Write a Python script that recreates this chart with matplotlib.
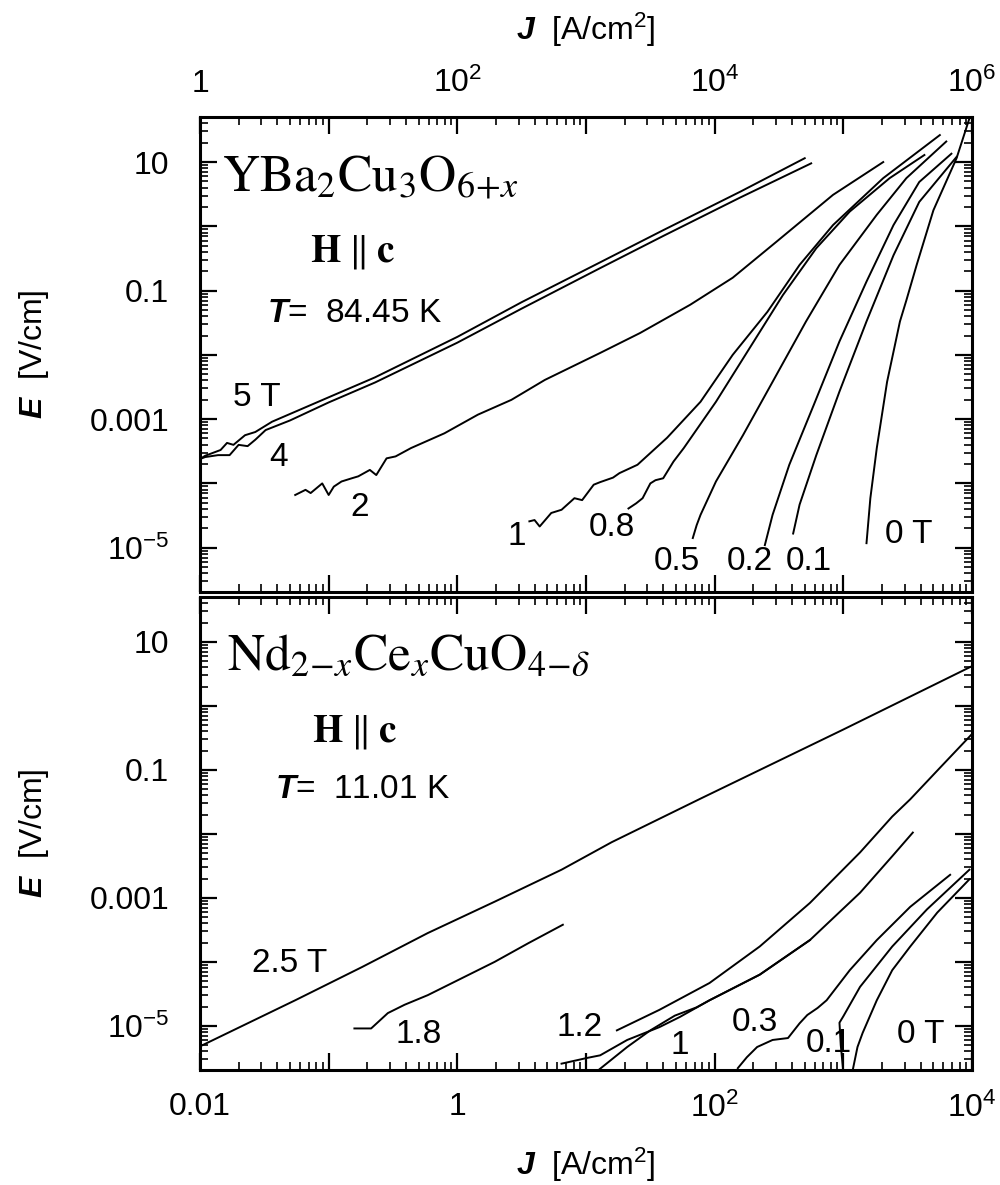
import numpy as np
import matplotlib
matplotlib.use('Agg')
import matplotlib.pyplot as plt
from matplotlib.ticker import FixedLocator, FixedFormatter, LogLocator, NullFormatter

plt.rcParams['font.family'] = ['Liberation Sans', 'DejaVu Sans']
plt.rcParams['mathtext.fontset'] = 'custom'
plt.rcParams['mathtext.rm'] = 'Liberation Sans'
plt.rcParams['mathtext.it'] = 'Liberation Sans:italic'
plt.rcParams['mathtext.bf'] = 'Liberation Sans:italic:bold'

# curves as (log10 J [A/cm2], log10 E [V/cm])
# --- YBa2Cu3O6+x, T = 84.45 K ---
ybco_5T = [(0.0, -3.62), (0.04, -3.57), (0.16, -3.48), (0.21, -3.37), (0.26, -3.40),
           (0.35, -3.25), (0.43, -3.20), (0.56, -3.04), (1.0, -2.66), (1.36, -2.35),
           (2.0, -1.72), (2.5, -1.18), (3.11, -0.56), (3.6, -0.06), (4.2, 0.54), (4.70, 1.06)]
ybco_4T = [(0.0, -3.62), (0.04, -3.59), (0.14, -3.56), (0.23, -3.56), (0.30, -3.40),
           (0.37, -3.42), (0.43, -3.32), (0.51, -3.17), (0.7, -3.02), (1.0, -2.74),
           (1.36, -2.43), (2.0, -1.81), (2.5, -1.28), (3.11, -0.65), (3.6, -0.15),
           (4.2, 0.45), (4.75, 0.98)]
ybco_2T = [(0.74, -4.18), (0.82, -4.10), (0.86, -4.15), (0.95, -4.00), (1.00, -4.18),
           (1.04, -4.05), (1.10, -3.97), (1.18, -3.92), (1.23, -3.89), (1.32, -3.79),
           (1.37, -3.87), (1.45, -3.61), (1.52, -3.58), (1.64, -3.45), (1.90, -3.22),
           (2.16, -2.93), (2.42, -2.70), (2.68, -2.39), (3.11, -1.97), (3.42, -1.66),
           (3.81, -1.22), (4.14, -0.80), (4.48, -0.24), (4.92, 0.49), (5.31, 1.0)]
ybco_1T = [(2.56, -4.59), (2.60, -4.57), (2.64, -4.67), (2.73, -4.46), (2.81, -4.41),
           (2.91, -4.23), (2.97, -4.26), (3.06, -4.02), (3.11, -3.98), (3.21, -3.91),
           (3.26, -3.84), (3.40, -3.71), (3.63, -3.29), (3.89, -2.73), (4.14, -2.0),
           (4.41, -1.33), (4.66, -0.60), (4.92, 0.02), (5.31, 0.75), (5.75, 1.42)]
ybco_08T = [(3.33, -4.39), (3.39, -4.31), (3.44, -4.23), (3.50, -4.00), (3.54, -3.95),
            (3.60, -3.92), (3.68, -3.66), (3.76, -3.45), (4.01, -2.73), (4.27, -1.90),
            (4.53, -1.07), (4.79, -0.34), (5.05, 0.23), (5.36, 0.75), (5.63, 1.11)]
ybco_05T = [(3.83, -4.85), (3.86, -4.65), (3.89, -4.49), (4.01, -3.97), (4.22, -3.25),
            (4.45, -2.42), (4.71, -1.48), (4.97, -0.60), (5.26, 0.18), (5.49, 0.75),
            (5.80, 1.32)]
ybco_02T = [(4.39, -4.96), (4.45, -4.49), (4.58, -3.71), (4.77, -2.78), (4.97, -1.79),
            (5.18, -0.86), (5.39, 0.02), (5.59, 0.69), (5.84, 1.13)]
ybco_01T = [(4.61, -4.78), (4.66, -4.33), (4.79, -3.56), (4.97, -2.57), (5.18, -1.48),
            (5.39, -0.45), (5.59, 0.38), (5.88, 1.08)]
ybco_0T = [(5.18, -4.93), (5.21, -4.23), (5.26, -3.45), (5.34, -2.42), (5.44, -1.48),
           (5.49, -1.15), (5.57, -0.60), (5.70, 0.25), (5.88, 1.06), (5.98, 1.68)]

# --- Nd2-xCexCuO4-d, T = 11.01 K ---
ncco_25T = [(-2.0, -5.32), (-1.26, -4.60), (-0.74, -4.08), (-0.23, -3.55), (0.29, -3.06),
            (0.81, -2.56), (1.20, -2.13), (1.89, -1.45), (3.0, -0.37), (4.0, 0.62)]
ncco_18T = [(-0.80, -5.04), (-0.67, -5.04), (-0.54, -4.80), (-0.41, -4.67), (-0.23, -4.52),
            (0.03, -4.26), (0.29, -4.00), (0.55, -3.71), (0.82, -3.42)]
ncco_12T = [(1.24, -5.07), (1.57, -4.75), (1.96, -4.33), (2.35, -3.76), (2.74, -3.08),
            (3.13, -2.29), (3.38, -1.73), (3.52, -1.46), (3.75, -0.97), (4.0, -0.44)]
ncco_1T_a = [(0.81, -5.59), (1.01, -5.50), (1.11, -5.46), (1.32, -5.22), (1.57, -5.02),
             (1.73, -4.86), (1.96, -4.60), (2.35, -4.20), (2.74, -3.66), (3.13, -2.92),
             (3.38, -2.35), (3.54, -1.98)]
ncco_1T_b = [(1.06, -5.75), (1.32, -5.33), (1.50, -5.07), (1.69, -4.84), (1.86, -4.71),
             (1.96, -4.60), (2.35, -4.20), (2.74, -3.66)]
ncco_03T = [(2.18, -5.66), (2.25, -5.49), (2.33, -5.33), (2.45, -5.22), (2.57, -5.19),
            (2.66, -4.96), (2.72, -4.83), (2.80, -4.72), (2.87, -4.60), (3.05, -4.13),
            (3.26, -3.66), (3.52, -3.14), (3.83, -2.64)]
ncco_01T = [(3.00, -5.72), (2.98, -5.30), (2.97, -4.95), (3.00, -4.85), (3.13, -4.39),
            (3.38, -3.76), (3.65, -3.18), (3.98, -2.56)]
ncco_0T = [(3.07, -5.72), (3.11, -5.33), (3.15, -5.11), (3.26, -4.60), (3.38, -4.13),
           (3.52, -3.76), (3.73, -3.23), (3.98, -2.71)]

ybco_labels = [('5 T', 0.44, -2.67), ('4', 0.61, -3.60), ('2', 1.24, -4.37),
               ('1', 2.46, -4.83), ('0.8', 3.20, -4.69), ('0.5', 3.71, -5.22),
               ('0.2', 4.27, -5.22), ('0.1', 4.73, -5.22), ('0 T', 5.51, -4.79)]
ncco_labels = [('2.5 T', -1.30, -4.02), ('1.8', -0.30, -5.14), ('1.2', 0.95, -5.02),
               ('1', 1.73, -5.30), ('0.3', 2.31, -4.94), ('0.1', 2.89, -5.27),
               ('0 T', 3.60, -5.13)]

ylog_lim = (-5.69, 1.70)


def curve(ax, pts):
    a = np.array(pts)
    ax.plot(10 ** a[:, 0], 10 ** a[:, 1], color='black', lw=1.4)


def decade_labels(lo, hi, shown):
    ticks = [10.0 ** k for k in range(lo, hi + 1)]
    labels = [shown.get(k, '') for k in range(lo, hi + 1)]
    return ticks, labels


def style_axes(ax, xlo, xhi, xshown):
    ax.set_xscale('log')
    ax.set_yscale('log')
    ax.set_xlim(10.0 ** xlo, 10.0 ** xhi)
    ax.set_ylim(10 ** ylog_lim[0], 10 ** ylog_lim[1])
    xt, xl = decade_labels(xlo, xhi, xshown)
    ax.xaxis.set_major_locator(FixedLocator(xt))
    ax.xaxis.set_major_formatter(FixedFormatter(xl))
    ax.xaxis.set_minor_locator(LogLocator(base=10, subs=np.arange(2, 10), numticks=30))
    ax.xaxis.set_minor_formatter(NullFormatter())
    yt, yl = decade_labels(-6, 2, {1: '10', -1: '0.1', -3: '0.001', -5: '$10^{-5}$'})
    ax.yaxis.set_major_locator(FixedLocator(yt))
    ax.yaxis.set_major_formatter(FixedFormatter(yl))
    ax.yaxis.set_minor_locator(LogLocator(base=10, subs=np.arange(2, 10), numticks=30))
    ax.yaxis.set_minor_formatter(NullFormatter())
    ax.tick_params(which='both', direction='in', top=True, right=True, labelsize=23)
    ax.tick_params(which='major', length=12, width=1.6)
    ax.tick_params(which='minor', length=6, width=1.2)
    ax.tick_params(axis='y', pad=22)
    for s in ax.spines.values():
        s.set_linewidth(2.2)
    ax.set_ylabel(r'$\mathbf{E}$  [V/cm]', fontsize=23, labelpad=28)


fig = plt.figure(figsize=(10, 11.85), dpi=100)
ax1 = fig.add_axes([0.2, 0.5004, 0.772, 0.4008])
ax2 = fig.add_axes([0.2, 0.0970, 0.772, 0.3992])

# top panel
style_axes(ax1, 0, 6, {0: '1', 2: '$10^{2}$', 4: '$10^{4}$', 6: '$10^{6}$'})
ax1.tick_params(axis='x', labeltop=True, labelbottom=False, pad=13)
ax1.xaxis.set_label_position('top')
ax1.set_xlabel(r'$\mathbf{J}$  [A/cm$^2$]', fontsize=23, labelpad=20)
for c in [ybco_5T, ybco_4T, ybco_2T, ybco_1T, ybco_08T, ybco_05T, ybco_02T, ybco_01T, ybco_0T]:
    curve(ax1, c)
for txt, lx, ly in ybco_labels:
    ax1.text(10 ** lx, 10 ** ly, txt, fontsize=24, ha='center', va='center')
ax1.text(0.0285, 0.846, r'$\mathrm{YBa}_2\mathrm{Cu}_3\mathrm{O}_{6\!+\!x}$', transform=ax1.transAxes,
         fontsize=37, math_fontfamily='stix', ha='left', va='baseline')
ax1.text(0.142, 0.716, r'$\mathbf{H}\;\Vert\;\mathbf{c}$', transform=ax1.transAxes,
         fontsize=28, math_fontfamily='stix', ha='left', va='center')
ax1.text(0.087, 0.587, r'$\mathbf{T}$=  84.45 K', transform=ax1.transAxes,
         fontsize=24, ha='left', va='center')

# bottom panel
style_axes(ax2, -2, 4, {-2: '0.01', 0: '1', 2: '$10^{2}$', 4: '$10^{4}$'})
ax2.tick_params(axis='x', labeltop=False, labelbottom=True, pad=16)
ax2.set_xlabel(r'$\mathbf{J}$  [A/cm$^2$]', fontsize=23, labelpad=16)
for c in [ncco_25T, ncco_18T, ncco_12T, ncco_1T_a, ncco_1T_b, ncco_03T, ncco_01T, ncco_0T]:
    curve(ax2, c)
for txt, lx, ly in ncco_labels:
    ax2.text(10 ** lx, 10 ** ly, txt, fontsize=24, ha='center', va='center')
ax2.text(0.035, 0.846, r'$\mathrm{Nd}_{2\!-\!x}\mathrm{Ce}_x\mathrm{CuO}_{4\!-\!\delta}$',
         transform=ax2.transAxes, fontsize=37, math_fontfamily='stix', ha='left', va='baseline')
ax2.text(0.145, 0.715, r'$\mathbf{H}\;\Vert\;\mathbf{c}$', transform=ax2.transAxes,
         fontsize=28, math_fontfamily='stix', ha='left', va='center')
ax2.text(0.097, 0.594, r'$\mathbf{T}$=  11.01 K', transform=ax2.transAxes,
         fontsize=24, ha='left', va='center')

fig.savefig('out.png', dpi=100)
